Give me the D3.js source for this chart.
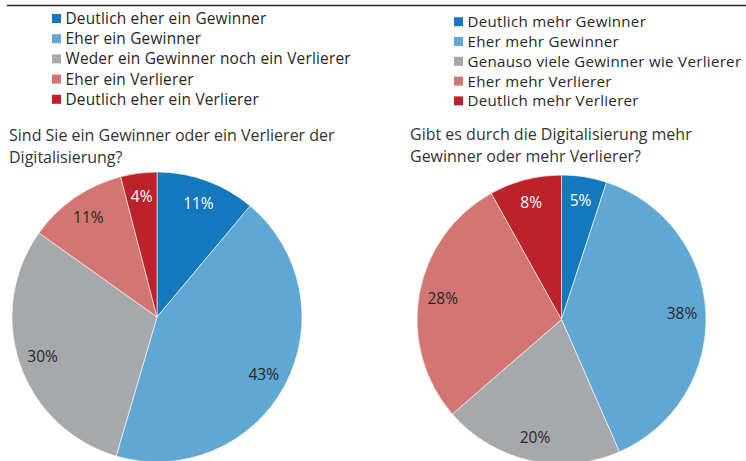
<!DOCTYPE html>
<html><head><meta charset="utf-8">
<script src="https://cdn.jsdelivr.net/npm/d3@7"></script>
<style>body{margin:0;background:#fff}svg{display:block}text{font-family:"Open Sans",sans-serif}</style>
</head><body><svg id="c" width="746" height="461"></svg>
<script>
const colors = ["#1378be", "#5ea8d3", "#a7a8ab", "#d27573", "#bc2229"];
const labelColors = ["#ffffff", "#262626", "#262626", "#262626", "#ffffff"];

const leftCategories = ["Deutlich eher ein Gewinner", "Eher ein Gewinner", "Weder ein Gewinner noch ein Verlierer", "Eher ein Verlierer", "Deutlich eher ein Verlierer"];
const leftValues = [11, 43, 30, 11, 4];
const leftTitle = ["Sind Sie ein Gewinner oder ein Verlierer der", "Digitalisierung?"];

const rightCategories = ["Deutlich mehr Gewinner", "Eher mehr Gewinner", "Genauso viele Gewinner wie Verlierer", "Eher mehr Verlierer", "Deutlich mehr Verlierer"];
const rightValues = [5, 38, 20, 28, 8];
const rightTitle = ["Gibt es durch die Digitalisierung mehr", "Gewinner oder mehr Verlierer?"];

const svg = d3.select("#c");

svg.append("line").attr("x1", 7).attr("x2", 746).attr("y1", 5.5).attr("y2", 5.5)
  .attr("stroke", "#231f20").attr("stroke-width", 1.6);

function legend(cats, x0, y0, step, fs, ls) {
  const g = svg.append("g");
  cats.forEach((c, i) => {
    const cy = y0 + i * step;
    g.append("rect").attr("x", x0).attr("y", cy - 4.5).attr("width", 9).attr("height", 9).attr("fill", colors[i]);
    g.append("text").attr("x", x0 + 13.5).attr("y", cy + 5.5).attr("font-size", fs)
      .attr("letter-spacing", ls).attr("fill", "#262626").text(c);
  });
}
legend(leftCategories, 52, 18.5, 20.2, 15.4, 0.2);
legend(rightCategories, 454, 21.7, 19.8, 15.1, 0.3);

function title(lines, x, y) {
  lines.forEach((l, i) => svg.append("text").attr("x", x).attr("y", y + i * 22.3)
    .attr("font-size", 16).attr("fill", "#333").text(l));
}
title(leftTitle, 9, 140.5);
title(rightTitle, 410, 140);

function pieChart(values, cx, cy, r) {
  const pie = d3.pie().sort(null).value(d => d);
  const arc = d3.arc().innerRadius(0).outerRadius(r);
  const lab = d3.arc().innerRadius(r * 0.835).outerRadius(r * 0.835);
  const g = svg.append("g").attr("transform", `translate(${cx},${cy})`);
  const arcs = pie(values);
  g.selectAll("path").data(arcs).join("path").attr("d", arc)
    .attr("fill", (d, i) => colors[i]).attr("stroke", "#fff").attr("stroke-width", 0.6);
  g.selectAll("text").data(arcs).join("text")
    .attr("transform", d => `translate(${lab.centroid(d)})`)
    .attr("text-anchor", "middle").attr("dy", "0.36em")
    .attr("font-size", 15.5).attr("fill", (d, i) => labelColors[i])
    .text(d => d.data + "%");
}
pieChart(leftValues, 157, 317, 145);
pieChart(rightValues, 561.5, 319.5, 144.5);
</script></body></html>
